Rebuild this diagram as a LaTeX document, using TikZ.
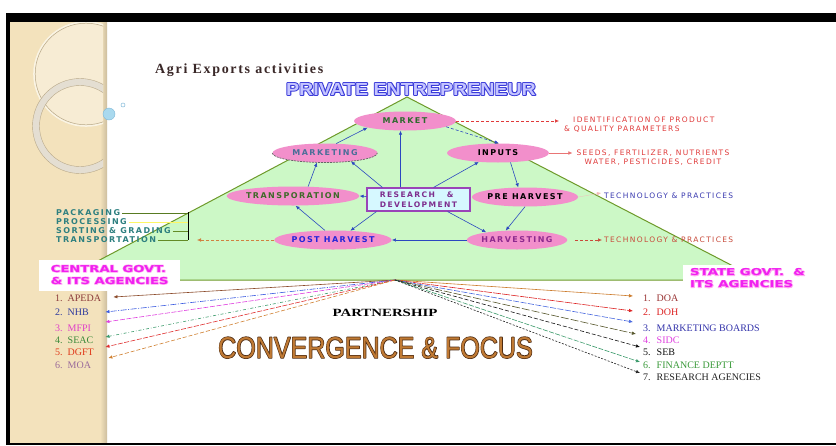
\documentclass[tikz,border=0pt]{standalone}
\usepackage{fontspec}
\usepackage{graphicx}
\setmainfont{Liberation Serif}
\newfontfamily\spc[LetterSpace=18]{DejaVu Sans}
\newfontfamily\widefont{DejaVu Sans}
\newfontfamily\lsans{Liberation Sans}
\newfontfamily\titlefont[LetterSpace=12]{Liberation Serif}
\usetikzlibrary{arrows.meta,shapes.geometric}

% haloed lettering: a stroked layer in rgb #1 (width #2 bp) under the plain text
\newcommand{\haloed}[3]{\rlap{\special{pdf:literal direct q #1 RG #2 w 1 j 2 Tr}#3\special{pdf:literal direct Q}}#3}

% palette
\definecolor{strip}{HTML}{F3E2BC}
\definecolor{stripedge}{HTML}{CDBE9E}
\definecolor{stripline}{HTML}{B8A888}
\definecolor{striplight}{HTML}{F7ECD4}
\definecolor{ringgrey}{HTML}{E4DED2}
\definecolor{triFill}{HTML}{CCF8C6}
\definecolor{triEdge}{HTML}{6E9A2A}
\definecolor{ellpink}{HTML}{F28FCB}
\definecolor{flowblue}{HTML}{2B48C0}
\definecolor{mktgreen}{HTML}{2E6A2E}
\definecolor{mktgblue}{HTML}{4A6E98}
\definecolor{trgreen}{HTML}{3E6A2A}
\definecolor{postblue}{HTML}{2424D8}
\definecolor{harvpurple}{HTML}{8E2A8E}
\definecolor{rdpurple}{HTML}{7E2E8E}
\definecolor{rdedge}{HTML}{9A44B8}
\definecolor{rdfill}{HTML}{D6F8FF}
\definecolor{noteRed}{HTML}{E03A3A}
\definecolor{noteBrown}{HTML}{C84A3A}
\definecolor{noteBlue}{HTML}{3A3AB0}
\definecolor{noteOrange}{HTML}{D08040}
\definecolor{tealtext}{HTML}{2E8080}
\definecolor{govtmag}{HTML}{F020F0}
\definecolor{lav}{HTML}{C4C4FF}
\definecolor{convfill}{HTML}{C07A34}
\definecolor{titlebrown}{HTML}{3A2828}
\definecolor{bubble}{HTML}{A9D9EE}
\definecolor{bubbleedge}{HTML}{7FB8D8}
% list colours
\definecolor{lA}{HTML}{8B3A3A}\definecolor{aA}{HTML}{8B4A2A}
\definecolor{lB}{HTML}{2E3A9E}\definecolor{aB}{HTML}{3A5AE0}
\definecolor{lC}{HTML}{E040C8}\definecolor{aC}{HTML}{E040E0}
\definecolor{lD}{HTML}{3A8A3A}\definecolor{aD}{HTML}{3A9A6A}
\definecolor{lE}{HTML}{E03A1A}\definecolor{aE}{HTML}{E03030}
\definecolor{lF}{HTML}{9A6A9A}\definecolor{aF}{HTML}{D08030}
\definecolor{rA}{HTML}{993333}\definecolor{bA}{HTML}{CC7A2A}
\definecolor{rB}{HTML}{DD2222}\definecolor{bB}{HTML}{DD2222}
\definecolor{rC}{HTML}{3333AA}\definecolor{bC}{HTML}{4A6AE0}
\definecolor{rD}{HTML}{E040E0}\definecolor{bD}{HTML}{55552A}
\definecolor{rE}{HTML}{111111}\definecolor{bE}{HTML}{111111}
\definecolor{rF}{HTML}{3A9A3A}\definecolor{bF}{HTML}{3A9A6A}
\definecolor{rG}{HTML}{222222}\definecolor{bG}{HTML}{222222}

\tikzset{
  tip/.style={-{Latex[length=4pt,width=3.5pt]}},
  ell/.style={ellipse, fill=ellpink, inner sep=0pt, minimum height=19pt,
    font=\spc\bfseries\fontsize{8}{9}\selectfont},
  flow/.style={tip, draw=flowblue, line width=0.6pt},
  note/.style={inner sep=0pt, align=left, font=\spc\fontsize{7.5}{9}\selectfont},
  pkg/.style={inner sep=0pt, anchor=west, text=tealtext, font=\spc\bfseries\fontsize{8}{9}\selectfont},
  lst/.style={inner sep=0pt, anchor=west, font=\fontsize{10}{12}\selectfont},
  lstL/.style={lst, text width=50pt, align=left},
  link/.style={tip, line width=0.6pt},
  govt/.style={fill=white, inner sep=0pt, font=\widefont\bfseries\fontsize{9.5}{12}\selectfont, text=govtmag},
}

\begin{document}
\begin{tikzpicture}[x=1pt,y=-1pt]
\useasboundingbox (0,0) rectangle (836,445);
\fill[white] (0,0) rectangle (836,445);

% decorative side strip
\fill[strip] (10,22) rectangle (107,443);
\shade[left color=strip, right color=stripedge] (100,22) rectangle (107,443);
\begin{scope}
  \clip (10,22) rectangle (103,443);
  \fill[striplight] (86,74) circle (52);
  \draw[white!60!strip, line width=1.6pt] (86,74) circle (52);
  \draw[stripline, line width=0.5pt] (86,74) circle (50.8);
  \draw[ringgrey, line width=7pt] (80,126) circle (44);
  \draw[stripline, line width=0.4pt] (80,126) circle (47.5);
  \draw[stripline, line width=0.4pt] (80,126) circle (40.5);
\end{scope}
\fill[bubble] (109,114) circle (6);
\draw[bubbleedge, line width=0.4pt] (109,114) circle (6);
\draw[bubbleedge, line width=0.5pt] (123,105) circle (2);

% frame
\fill[black] (6,13) rectangle (836,22);
\fill[black] (6,13) rectangle (10,445);
\fill[black] (6,443) rectangle (836,445);

% titles
\node[anchor=base west, inner sep=0pt, text=titlebrown, font=\titlefont\bfseries\fontsize{14}{16}\selectfont] (title) at (155,73) {Agri Exports activities};
\node[anchor=base, inner sep=0pt, font=\lsans\bfseries\fontsize{17.5}{20}\selectfont] (private) at (411,95)
  {\scalebox{1.12}[1]{\color{lav}\haloed{0.23 0.23 0.85}{1.8}{PRIVATE ENTREPRENEUR}}};

% pyramid
\fill[triFill] (407,97) -- (760,280) -- (62,280) -- cycle;
\draw[triEdge, line width=1pt] (62,280) -- (407,97) -- (760,280) -- cycle;

% activity nodes
\node[ell, minimum width=102pt, text=mktgreen] (market) at (405,121) {MARKET};
\node[ell, minimum width=105pt, text=mktgblue] (marketing) at (325,153) {MARKETING};
\draw[black!60, line width=0.7pt, dash pattern=on 2pt off 1pt]
  (marketing.west) arc[start angle=180, end angle=360, x radius=52.5pt, y radius=9.5pt];
\node[ell, minimum width=102pt, text=black] (inputs) at (498,153) {INPUTS};
\node[ell, minimum width=104pt, text=trgreen] (transp) at (293,196) {TRANSPORATION};
\node[ell, minimum width=96pt, text=black] (preharv) at (525,197) {PRE HARVEST};
\node[ell, minimum width=104pt, text=postblue] (postharv) at (333,240) {POST HARVEST};
\node[ell, minimum width=94pt, text=harvpurple] (harv) at (517,240) {HARVESTING};
\node[rectangle, draw=rdedge, line width=1.2pt, fill=rdfill, minimum width=103pt, minimum height=23pt,
  inner sep=0pt, align=left, text=rdpurple, font=\spc\bfseries\fontsize{7.6}{9.5}\selectfont]
  (rd) at (418.5,199.5) {RESEARCH\ \ \ \&\\DEVELOPMENT};

% flows inside the pyramid
\draw[flow] ([xshift=-18pt]rd.north) -- ([xshift=-18pt]rd.north |- market.south);
\draw[flow] ([xshift=16pt]rd.north west) -- (marketing.-18);
\draw[flow] ([xshift=-37pt]rd.north east) -- (inputs.-155);
\draw[flow] ([yshift=3pt]rd.west) -- (transp.east);
\draw[flow] ([xshift=10pt]rd.south west) -- (postharv.28);
\draw[flow] ([xshift=-23pt]rd.south east) -- (harv.166);
\draw[flow] (marketing.40) -- (market.-170);
\draw[flow, densely dashed] (market.-8) -- (inputs.85);
\draw[flow] (inputs.-37) -- (preharv.125);
\draw[flow] (preharv.south) -- (harv.140);
\draw[flow] (harv.west) -- (postharv.east);
\draw[flow] (postharv.130) -- (transp.-75);
\draw[flow] (transp.32) -- (marketing.-130);

% notes on the right
\node[note, text=noteRed, anchor=west] (ident) at (560,124.5)
  {\hspace*{13pt}IDENTIFICATION OF PRODUCT\\\hspace*{4pt}\& QUALITY PARAMETERS};
\node[note, text=noteRed, align=center] (seeds) at (653,158)
  {SEEDS, FERTILIZER, NUTRIENTS\\WATER, PESTICIDES, CREDIT};
\node[note, text=noteBlue, anchor=west] (techA) at (604,196) {TECHNOLOGY \& PRACTICES};
\node[note, text=noteBrown, anchor=west] (techB) at (604,240) {TECHNOLOGY \& PRACTICES};
\draw[tip, noteRed, line width=0.5pt, densely dashed] (market.east) -- ([xshift=-1pt]ident.west |- market.east);
\draw[tip, noteRed!70, line width=0.4pt] (inputs.east) -- ([xshift=-4pt]seeds.west |- inputs.east);
\draw[tip, noteRed!35, line width=0.3pt] (preharv.east) -- ([xshift=-3pt,yshift=3pt]techA.west);
\draw[tip, noteBrown, line width=0.5pt, densely dashed, shorten <=8pt] (harv.east) -- ([xshift=-2pt]techB.west);

% post-harvest activities on the left
\node[pkg] (pA) at (56,213) {PACKAGING};
\node[pkg] (pB) at (56,222) {PROCESSING};
\node[pkg] (pC) at (56,231) {SORTING \& GRADING};
\node[pkg] (pD) at (56,240) {TRANSPORTATION};
\coordinate (brTop) at (188,212);
\coordinate (brBot) at (188,240);
\coordinate (phEnd) at (197,240);
\draw[black, line width=0.8pt] (brTop) -- (brBot);
\draw[triEdge!80!black, line width=0.6pt] ([xshift=2pt]pA.east) -- (brTop |- pA.east);
\draw[yellow!60!white, line width=0.6pt] ([xshift=2pt]pB.east) -- (brTop |- pB.east);
\draw[triEdge!90!black, line width=0.6pt] ([xshift=2pt]pC.east) -- (brTop |- pC.east);
\draw[triEdge!90!black, line width=0.6pt] ([xshift=2pt]pD.east) -- (brTop |- pD.east);
\draw[tip, noteOrange, line width=0.5pt, densely dashed] (postharv.west) -- (phEnd);

% agency groups
\node[govt, minimum width=141pt, minimum height=31pt, anchor=north west] (cgov) at (39,260)
  {\scalebox{1.38}[1]{\haloed{1 0.66 0.95}{1.2}{\begin{tabular}{@{}l@{}}CENTRAL GOVT.\\\& ITS AGENCIES\end{tabular}}}};
\node[govt, inner xsep=7pt, minimum height=28pt, anchor=north west] (sgov) at (683,265)
  {\scalebox{1.4}[1]{\haloed{1 0.66 0.95}{1.2}{\begin{tabular}{@{}l@{}}STATE GOVT.\ \ \&\\ITS AGENCIES\end{tabular}}}};

% central agencies
\node[lstL, text=lA] (cA) at (55,298) {1.\hspace{5pt}APEDA};
\node[lstL, text=lB] (cB) at (55,312) {2.\hspace{5pt}NHB};
\node[lstL, text=lC] (cC) at (55,328) {3.\hspace{5pt}MFPI};
\node[lstL, text=lD] (cD) at (55,340) {4.\hspace{5pt}SEAC};
\node[lstL, text=lE] (cE) at (55,352) {5.\hspace{5pt}DGFT};
\node[lstL, text=lF] (cF) at (55,365) {6.\hspace{5pt}MOA};

% state agencies
\node[lst, text=rA] (sA) at (643,298) {1.\hspace{6pt}DOA};
\node[lst, text=rB] (sB) at (643,312) {2.\hspace{6pt}DOH};
\node[lst, text=rC] (sC) at (643,328) {3.\hspace{6pt}MARKETING BOARDS};
\node[lst, text=rD] (sD) at (643,340) {4.\hspace{6pt}SIDC};
\node[lst, text=rE] (sE) at (643,352) {5.\hspace{6pt}SEB};
\node[lst, text=rF] (sF) at (643,365) {6.\hspace{6pt}FINANCE DEPTT};
\node[lst, text=rG] (sG) at (643,377) {7.\hspace{6pt}RESEARCH AGENCIES};

% partnership links
\coordinate (hub) at (395,280);
\draw[link, aA] (hub) -- ([xshift=8pt,yshift=1pt]cA.east);
\draw[link, aB, dash pattern=on 6pt off 1.5pt on 1pt off 1.5pt] (hub) -- (cB.east);
\draw[link, aC, dash pattern=on 5pt off 1.5pt] (hub) -- ([yshift=6pt]cC.east);
\draw[link, aD, dash dot] (hub) -- ([yshift=3pt]cD.east);
\draw[link, aE, dash pattern=on 5pt off 1.5pt] (hub) -- ([yshift=5pt]cE.east);
\draw[link, aF, dash pattern=on 4pt off 2pt] (hub) -- ([xshift=3pt,yshift=7pt]cF.east);

\draw[link, bA] (hub) -- ([xshift=-10pt,yshift=2pt]sA.west);
\draw[link, bB, dash pattern=on 8pt off 1pt] (hub) -- ([xshift=-10pt,yshift=1pt]sB.west);
\draw[link, bC, dash pattern=on 6pt off 1.5pt] (hub) -- ([xshift=-10pt,yshift=6pt]sC.west);
\draw[link, bD, dash pattern=on 8pt off 2pt] (hub) -- ([xshift=-7pt,yshift=6pt]sD.west);
\draw[link, bE, dash pattern=on 4pt off 2pt] (hub) -- ([xshift=-3pt,yshift=5pt]sE.west);
\draw[link, bF, dash pattern=on 5pt off 1.5pt] (hub) -- ([xshift=-3pt,yshift=3pt]sF.west);
\draw[link, bG, dash pattern=on 2pt off 1.5pt] (hub) -- ([xshift=-3pt,yshift=4pt]sG.west);

% captions
\node[anchor=base, inner sep=0pt, font=\bfseries\fontsize{11}{13}\selectfont] (partner) at (385,316)
  {\scalebox{1.35}[1]{PARTNERSHIP}};
\node[anchor=base, inner sep=0pt, font=\lsans\fontsize{30}{34}\selectfont] (conv) at (375.5,358)
  {\scalebox{0.835}[1]{\color{convfill}\haloed{0.29 0.16 0.07}{1.4}{CONVERGENCE \& FOCUS}}};
\end{tikzpicture}
\end{document}
